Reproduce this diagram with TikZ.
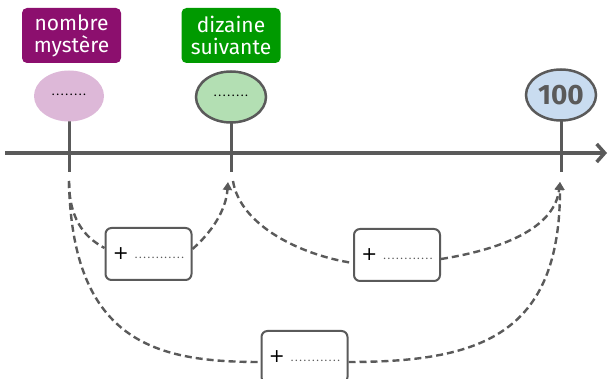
\documentclass[tikz,border=0pt]{standalone}
\usepackage{fontspec}
\setmainfont{Fira Sans}
\newfontfamily\djv{DejaVu Sans}
\usetikzlibrary{arrows.meta,shapes.geometric}
\definecolor{lg}{HTML}{5A5A5A}
\definecolor{purp}{HTML}{8C0F6E}
\definecolor{grn}{HTML}{009A00}
\definecolor{pinkf}{HTML}{DDB8D8}
\definecolor{greenf}{HTML}{B3DFB3}
\definecolor{bluef}{HTML}{C9DCF0}
\tikzset{
  labelbox/.style={rounded corners=5pt, text=white, align=center, minimum width=99pt, minimum height=55pt, font=\fontsize{21}{23}\selectfont, inner sep=0pt},
  bubble/.style={ellipse, minimum width=70pt, minimum height=51pt, inner sep=0pt, font=\fontsize{12}{12}\selectfont},
  sumbox/.style={draw=lg, line width=2pt, rounded corners=6pt, fill=white, minimum width=86pt, minimum height=52pt, inner sep=0pt},
  dline/.style={draw=lg, line width=2.4pt, dash pattern=on 7pt off 4pt},
  tick/.style={draw=lg, line width=3pt},
}
\newcommand{\dd}{.\hspace{1.6pt}}
\newcommand{\eightdots}{\dd\dd\dd\dd\dd\dd\dd.}
\newcommand{\twelvedots}{\dd\dd\dd\dd\dd\dd\dd\dd\dd\dd\dd.}
\newcommand{\sumtext}{\raisebox{-1pt}{\djv\fontsize{19}{19}\selectfont +}\hspace{6pt}{\fontsize{11}{11}\selectfont\color{lg}\twelvedots}}
\begin{document}
\begin{tikzpicture}[x=1pt,y=-1pt]
\useasboundingbox (0,0) rectangle (611,379);
% axis
\coordinate (axs) at (5,153);
\coordinate (axe) at (607,153);
\draw[lg, line width=4pt, -{Straight Barb[length=8pt,width=18pt,line width=3.5pt]}] (axs) -- (axe);
% ticks
\coordinate (t1a) at (69,105); \coordinate (t1b) at (69,172);
\coordinate (t2a) at (231,105); \coordinate (t2b) at (231,172);
\coordinate (t3a) at (561,105); \coordinate (t3b) at (561,172);
\draw[tick] (t1a) -- (t1b);
\draw[tick] (t2a) -- (t2b);
\draw[tick] (t3a) -- (t3b);
% bubbles
\node[bubble, fill=pinkf] (e1) at (69,96) {\raisebox{3pt}{\eightdots}};
\node[bubble, fill=greenf, draw=lg, line width=2.5pt] (e2) at (231,97) {\raisebox{3pt}{\eightdots}};
\node[bubble, fill=bluef, draw=lg, line width=2.5pt, font=\fontsize{28}{28}\selectfont\bfseries, text=lg] (e3) at (561,95) {100};
% labels
\node[labelbox, fill=purp] (l1) at (71.5,35.5) {nombre\\[-1pt]mystère};
\node[labelbox, fill=grn] (l2) at (231,35.5) {dizaine\\[-1pt]suivante};
% sum boxes
\node[sumbox] (s1) at (148.5,254) {\sumtext};
\node[sumbox] (s2) at (397,255) {\sumtext};
\node[sumbox] (s3) at (304.5,357) {\sumtext};
% arc endpoints
\coordinate (a1s) at (69,181);
\coordinate (a1e) at (228,182);
\coordinate (a2s) at (233,181);
\coordinate (a2e) at (560,182);
\coordinate (a3s) at (69,181);
\coordinate (a3e) at (560,182);
% arcs
\draw[dline] (a1s) .. controls (69,225) and (90,240) .. (s1.west |- 0,248);
\draw[dline, -{Triangle[length=8pt,width=9pt]}] (s1.east |- 0,249) .. controls (212,232) and (226,210) .. (a1e);
\draw[dline] (a2s) .. controls (240,225) and (300,255) .. (s2.west |- 0,263);
\draw[dline, -{Triangle[length=8pt,width=9pt]}] (s2.east |- 0,259) .. controls (510,248) and (555,225) .. (a2e);
\draw[dline] (a3s) .. controls (72,345) and (160,362) .. (s3.west |- 0,362);
\draw[dline, -{Triangle[length=8pt,width=9pt]}] (s3.east |- 0,362) .. controls (480,362) and (560,335) .. (a3e);
\end{tikzpicture}
\end{document}
